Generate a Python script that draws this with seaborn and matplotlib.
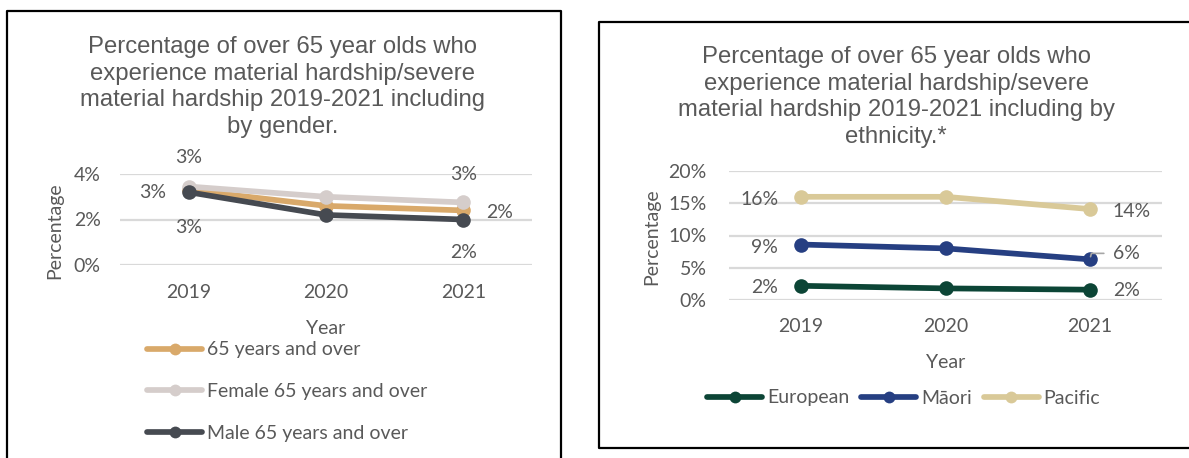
import matplotlib
matplotlib.use("Agg")
import matplotlib.pyplot as plt
from matplotlib.lines import Line2D
import numpy as np
import pandas as pd
import seaborn as sns

# ---- data -------------------------------------------------------------
years = [2019, 2020, 2021]

gender_series = ["65 years and over", "Female 65 years and over", "Male 65 years and over"]
all_65 = [3.3, 2.6, 2.4]
female_65 = [3.45, 3.0, 2.75]
male_65 = [3.2, 2.2, 2.0]

ethnic_series = ["European", "Māori", "Pacific"]
european = [2.2, 1.8, 1.6]
maori = [8.6, 8.0, 6.3]
pacific = [16.0, 16.0, 14.1]

gender_ticks = [0, 2, 4]
ethnic_ticks = [0, 5, 10, 15, 20]

gender_title = ("Percentage of over 65 year olds who\nexperience material hardship/severe\n"
                "material hardship 2019-2021 including\nby gender.")
ethnic_title = ("Percentage of over 65 year olds who\nexperience material hardship/severe\n"
                "material hardship 2019-2021 including by\nethnicity.*")

gender_colors = ["#D9A96A", "#D5CDCB", "#464A51"]
ethnic_colors = ["#0C4536", "#263F82", "#D9C998"]

# ---- styling ----------------------------------------------------------
sns.set_theme(style="white")
TEXT = "#595959"
GRID = "#D9D9D9"
BODY_FONT = ["Lato", "DejaVu Sans"]
TITLE_FONT = ["Liberation Sans", "DejaVu Sans"]
plt.rcParams["font.family"] = BODY_FONT

W, H = 1189, 458
fig = plt.figure(figsize=(W / 100, H / 100), dpi=100)
fig.patch.set_facecolor("white")


def fx(px):
    return px / W


def fy(py):
    return 1 - py / H


def axes_at(left, top, right, bottom):
    return fig.add_axes([fx(left), fy(bottom), fx(right - left), (bottom - top) / H])


def long_form(series_names, values):
    rows = []
    for name, vals in zip(series_names, values):
        for yr, v in zip(years, vals):
            rows.append({"Year": yr, "value": v, "series": name})
    return pd.DataFrame(rows)


def style_axes(ax, ticks, xpad, ypad, fs):
    ax.set_xlim(years[0] - 0.5, years[-1] + 0.5)
    ax.set_ylim(ticks[0], ticks[-1])
    ax.set_xticks(years)
    ax.set_xticklabels([str(y) for y in years])
    ax.set_yticks(ticks)
    ax.set_yticklabels([f"{t}%" for t in ticks])
    ax.tick_params(axis="x", length=0, pad=xpad, labelsize=fs, labelcolor=TEXT)
    ax.tick_params(axis="y", length=0, pad=ypad, labelsize=fs, labelcolor=TEXT)
    for s in ax.spines.values():
        s.set_visible(False)
    ax.grid(axis="y", color=GRID, linewidth=1.6)
    ax.grid(axis="x", visible=False)
    ax.set_axisbelow(True)
    ax.set_xlabel("")
    ax.set_ylabel("")
    ax.patch.set_alpha(0)


FS = 14
TITLE_FS = 17.2
LW = 4.1
MS = 10.5
LEG_MS = 8.5

# ---- left panel: by gender -------------------------------------------
ax1 = axes_at(120, 174, 532, 265)
df1 = long_form(gender_series, [all_65, female_65, male_65])
sns.lineplot(data=df1, x="Year", y="value", hue="series", hue_order=gender_series,
             palette=gender_colors, marker="o", markersize=MS, markeredgewidth=0,
             linewidth=LW, legend=False, ax=ax1, sort=False)
style_axes(ax1, gender_ticks, 14, 14, FS)


def label(ax, x, v, dx, dy, ha):
    ax.annotate(f"{round(v)}%", xy=(x, v), xytext=(dx, dy), textcoords="offset pixels",
                ha=ha, va="center", fontsize=FS, color=TEXT)


# first year labels
label(ax1, years[0], female_65[0], 0, 29, "center")
label(ax1, years[0], all_65[0], -23, -3, "right")
label(ax1, years[0], male_65[0], 0, -35, "center")
# last year labels
label(ax1, years[-1], female_65[-1], 0, 28, "center")
label(ax1, years[-1], all_65[-1], 23, -2, "left")
label(ax1, years[-1], male_65[-1], 0, -33, "center")

fig.text(fx(283), fy(87), gender_title, ha="center", va="center", fontsize=TITLE_FS,
         color=TEXT, family=TITLE_FONT, linespacing=1.27)
fig.text(fx(55), fy(231), "Percentage", rotation=90, ha="center", va="center",
         fontsize=FS, color=TEXT)
fig.text(fx(326), fy(328), "Year", ha="center", va="center", fontsize=FS, color=TEXT)

h1 = [Line2D([], [], color=c, lw=LW, marker="o", markersize=LEG_MS, markeredgewidth=0)
      for c in gender_colors]
fig.legend(h1, gender_series, loc="center left", bbox_to_anchor=(fx(147), fy(391.5)),
           bbox_transform=fig.transFigure, frameon=False, borderpad=0, borderaxespad=0,
           handlelength=2.83, handletextpad=0.26, labelspacing=1.26, numpoints=1,
           fontsize=FS, labelcolor=TEXT)

# ---- right panel: by ethnicity ---------------------------------------
ax2 = axes_at(729, 171, 1162, 300)
df2 = long_form(ethnic_series, [european, maori, pacific])
sns.lineplot(data=df2, x="Year", y="value", hue="series", hue_order=ethnic_series,
             palette=ethnic_colors, marker="o", markersize=MS, markeredgewidth=0,
             linewidth=LW, legend=False, ax=ax2, sort=False)
style_axes(ax2, ethnic_ticks, 13, 16, FS)

for vals, dy0, dy1 in [(pacific, -3, -2), (maori, -3, 6), (european, -2, -1)]:
    label(ax2, years[0], vals[0], -23, dy0, "right")
    label(ax2, years[-1], vals[-1], 23, dy1, "left")

# short leader from the Māori end label to its point
ax2.annotate("", xy=(years[-1], maori[-1]), xytext=(14, 6), textcoords="offset pixels",
             arrowprops=dict(arrowstyle="-", color="#A6A6A6", lw=1.2, shrinkA=0, shrinkB=2,
                             connectionstyle="angle,angleA=0,angleB=75,rad=0"))

fig.text(fx(896), fy(97), ethnic_title, ha="center", va="center", fontsize=TITLE_FS,
         color=TEXT, family=TITLE_FONT, linespacing=1.27)
fig.text(fx(652), fy(237), "Percentage", rotation=90, ha="center", va="center",
         fontsize=FS, color=TEXT)
fig.text(fx(946), fy(362), "Year", ha="center", va="center", fontsize=FS, color=TEXT)

h2 = [Line2D([], [], color=c, lw=LW, marker="o", markersize=LEG_MS, markeredgewidth=0)
      for c in ethnic_colors]
fig.legend(h2, ethnic_series, loc="center left", bbox_to_anchor=(fx(707), fy(398)),
           bbox_transform=fig.transFigure, frameon=False, borderpad=0, borderaxespad=0,
           handlelength=2.83, handletextpad=0.26, columnspacing=0.6, ncol=3, numpoints=1,
           fontsize=FS, labelcolor=TEXT)

# ---- panel borders -----------------------------------------------------
def border(points):
    xs = [fx(p[0]) for p in points]
    ys = [fy(p[1]) for p in points]
    fig.add_artist(Line2D(xs, ys, color="black", lw=1.6, transform=fig.transFigure))


border([(7, 470), (7, 11), (561, 11), (561, 470)])
border([(1200, 22), (599, 22), (599, 448), (1200, 448)])

fig.savefig("out.png", dpi=100, facecolor="white")
